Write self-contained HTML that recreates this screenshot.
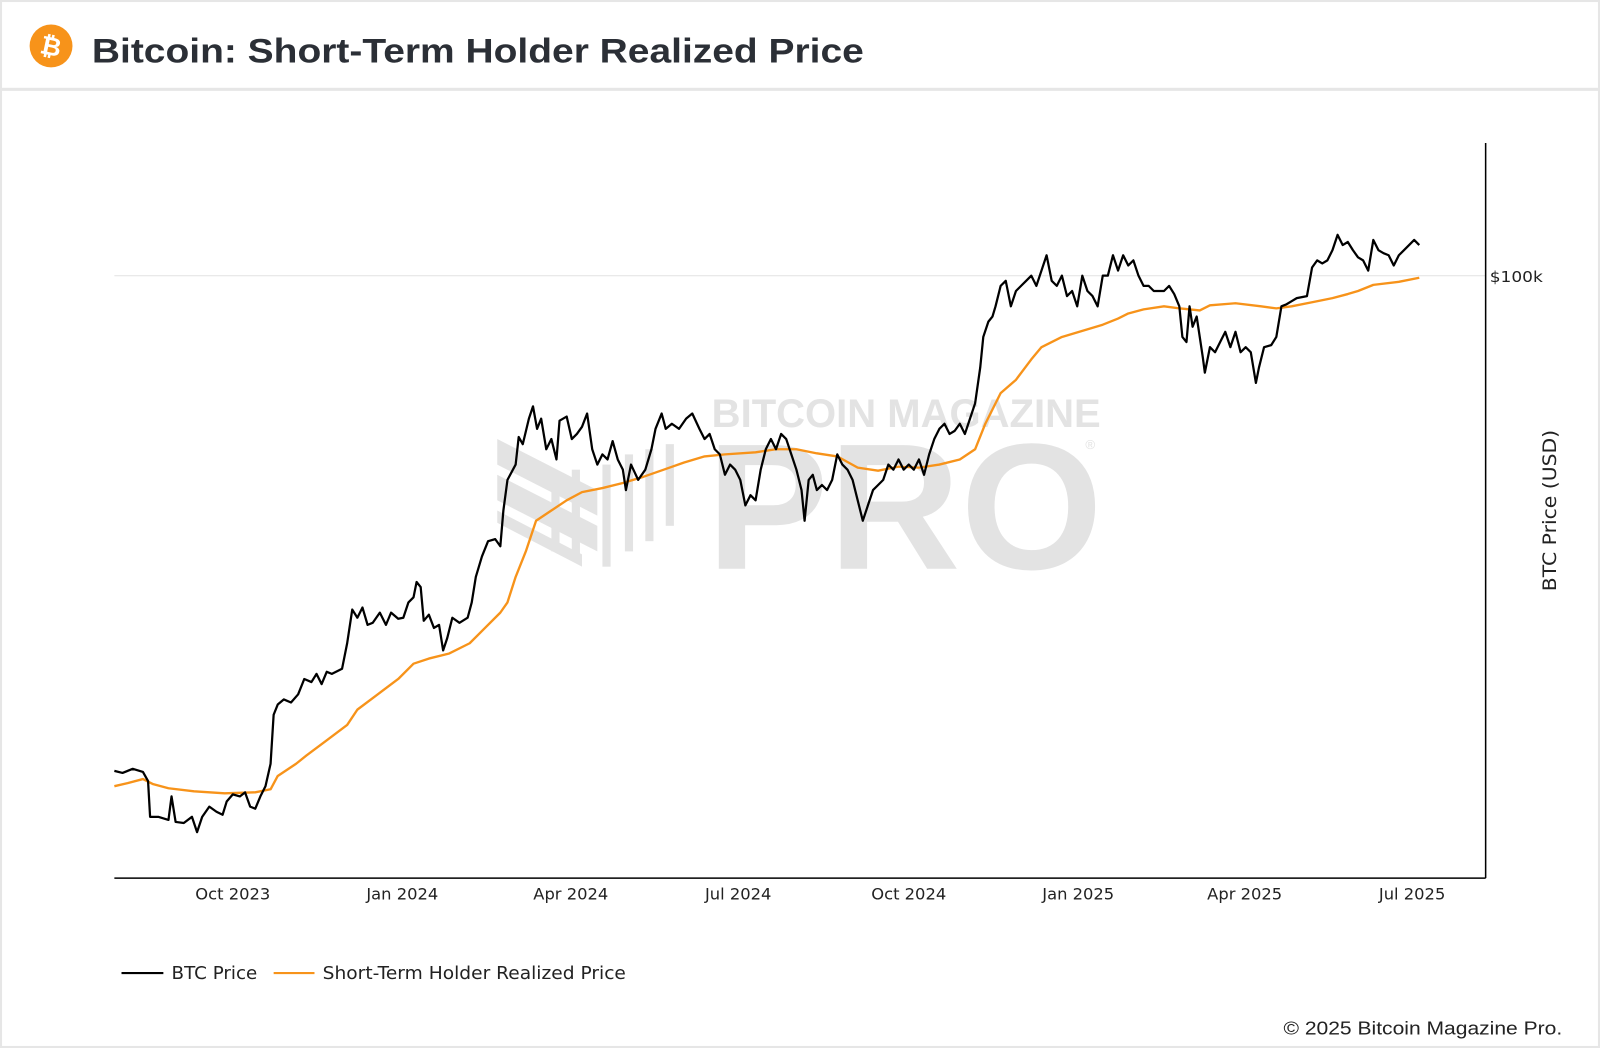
<!DOCTYPE html>
<html><head><meta charset="utf-8"><style>
html,body{margin:0;padding:0;background:#fff;}
svg{display:block;}
</style></head><body>
<svg width="1600" height="1048" viewBox="0 0 1567 1026.4" xmlns="http://www.w3.org/2000/svg" preserveAspectRatio="none" font-family="'Liberation Sans', sans-serif">
<rect x="0" y="0" width="1567" height="1026.4" fill="#fff"/>
<rect x="1" y="1" width="1565" height="1024.4" fill="none" stroke="#e6e6e6" stroke-width="2"/>
<rect x="0" y="86" width="1567" height="3" fill="#e6e6e6"/>
<!-- header -->
<circle cx="50" cy="45" r="21" fill="#f7931a"/>
<text x="50" y="54" font-size="25" font-weight="bold" fill="#fff" text-anchor="middle" transform="rotate(12 50 45)">₿</text>
<text x="90" y="61" font-size="34" font-weight="bold" fill="#2b2f36" textLength="756" lengthAdjust="spacingAndGlyphs">Bitcoin: Short-Term Holder Realized Price</text>
<!-- watermark -->
<g fill="#e3e3e3">
<text x="697" y="418" font-size="39" font-weight="bold" textLength="381" lengthAdjust="spacingAndGlyphs">BITCOIN MAGAZINE</text>
<text x="692" y="557" font-size="176" font-weight="bold" textLength="388" lengthAdjust="spacingAndGlyphs">PRO</text>
<text x="1063" y="440" font-size="13">®</text>
<polygon points="487,430 585,480 585,505 487,455"/>
<polygon points="487,465 585,515 585,540 487,490"/>
<polygon points="487,500 570,543 570,555 487,512"/>
<rect x="540" y="470" width="8" height="70"/>
<rect x="560" y="460" width="8" height="85"/>
<rect x="590" y="455" width="8" height="100"/>
<rect x="612" y="445" width="8" height="95"/>
<rect x="632" y="440" width="8" height="90"/>
<rect x="652" y="435" width="8" height="80"/>
</g>
<!-- grid & axes -->
<line x1="112" y1="270" x2="1455" y2="270" stroke="#e6e6e6" stroke-width="1"/>
<line x1="112" y1="860" x2="1455" y2="860" stroke="#000" stroke-width="1.5"/>
<line x1="1455" y1="140" x2="1455" y2="860" stroke="#000" stroke-width="1.5"/>
<text x="1459" y="276" font-size="15" fill="#222" font-family="'DejaVu Sans', sans-serif" textLength="52" lengthAdjust="spacingAndGlyphs">$100k</text>
<text x="1524" y="500" font-size="18" fill="#222" text-anchor="middle" transform="rotate(-90 1524 500)" font-family="'DejaVu Sans', sans-serif" textLength="158" lengthAdjust="spacingAndGlyphs">BTC Price (USD)</text>
<g font-size="16" fill="#222" text-anchor="middle" font-family="'DejaVu Sans', sans-serif">
<text x="228" y="881">Oct 2023</text>
<text x="394" y="881">Jan 2024</text>
<text x="559" y="881">Apr 2024</text>
<text x="723" y="881">Jul 2024</text>
<text x="890" y="881">Oct 2024</text>
<text x="1056" y="881">Jan 2025</text>
<text x="1219" y="881">Apr 2025</text>
<text x="1383" y="881">Jul 2025</text>
</g>
<!-- STH -->
<polyline fill="none" stroke="#f7931a" stroke-width="2.3" stroke-linejoin="round" points="112,770 125,767 140,763 150,768 165,772 190,775 220,777 250,776 265,773 272,760 290,748 300,740 320,725 340,710 350,695 370,680 390,665 405,650 420,645 440,640 460,630 475,615 490,600 497,590 505,565 515,540 525,510 540,500 555,490 570,482 590,478 610,473 630,467 650,460 670,453 690,447 710,445 740,443 760,440 780,440 800,444 820,447 840,458 860,461 880,457 900,458 920,455 940,450 955,440 965,415 980,385 995,372 1010,352 1020,340 1040,330 1060,324 1080,318 1095,312 1105,307 1120,303 1140,300 1155,302 1175,304 1185,299 1210,297 1235,300 1250,302 1265,300 1285,296 1305,292 1320,288 1330,285 1345,279 1370,276 1390,272"/>
<!-- BTC -->
<polyline fill="none" stroke="#000" stroke-width="2.2" stroke-linejoin="round" points="112,755 120,757 130,753 140,756 145,765 147,800 155,800 165,803 168,780 172,805 180,806 188,800 193,815 198,800 205,790 212,795 218,798 222,785 228,778 235,780 240,776 245,790 250,792 255,780 260,770 265,748 268,700 272,690 278,685 285,688 292,680 298,665 305,668 310,660 315,670 320,658 325,660 335,655 340,630 345,597 350,605 355,595 360,612 365,610 372,600 378,612 383,600 390,606 395,605 400,590 405,585 408,570 412,575 415,608 420,602 425,615 430,612 434,637 438,625 443,605 450,610 458,605 462,590 466,565 472,545 478,530 485,528 490,535 493,500 497,470 505,455 508,428 512,435 518,410 522,398 526,420 530,410 535,440 540,430 545,450 548,412 555,408 560,430 565,425 570,418 575,405 580,440 585,455 590,445 595,450 600,432 605,450 610,460 613,480 618,455 625,470 632,460 638,440 642,420 648,405 652,420 658,415 665,420 672,410 678,405 685,420 690,430 695,425 700,440 705,445 710,465 715,455 720,460 725,470 730,495 735,485 740,490 745,460 750,440 755,430 760,440 765,425 770,430 775,445 780,460 785,480 788,510 792,470 796,465 800,480 805,475 810,480 815,470 820,445 825,455 830,460 835,470 840,490 845,510 850,495 855,480 860,475 865,470 870,455 875,460 880,450 885,460 890,455 895,460 900,450 905,465 910,445 915,430 920,420 925,415 930,425 935,422 940,415 945,425 950,410 955,395 960,360 963,330 968,315 972,310 975,300 980,280 985,275 990,300 995,285 1000,280 1005,275 1010,270 1015,280 1020,265 1025,250 1030,275 1035,280 1040,270 1045,290 1050,285 1055,300 1060,270 1065,285 1070,290 1075,300 1080,270 1085,270 1090,250 1095,265 1100,250 1105,260 1110,255 1115,270 1120,280 1125,280 1130,285 1140,285 1145,280 1150,288 1155,300 1158,330 1162,335 1165,300 1168,320 1172,310 1175,330 1178,350 1180,365 1185,340 1190,345 1195,335 1200,325 1205,340 1210,325 1215,345 1220,340 1225,345 1230,375 1233,360 1238,340 1245,338 1250,330 1255,300 1260,298 1265,295 1270,292 1280,290 1285,262 1290,255 1295,258 1300,255 1305,245 1310,230 1315,240 1320,237 1325,245 1330,252 1335,255 1340,265 1345,235 1350,245 1355,248 1360,250 1365,260 1370,250 1375,245 1380,240 1385,235 1390,240"/>
<!-- legend -->
<g font-family="'DejaVu Sans', sans-serif" font-size="17" fill="#222">
<line x1="119" y1="953" x2="160" y2="953" stroke="#000" stroke-width="2"/>
<text x="168" y="959" textLength="84" lengthAdjust="spacingAndGlyphs">BTC Price</text>
<line x1="268" y1="953" x2="308" y2="953" stroke="#f7931a" stroke-width="2"/>
<text x="316" y="959" textLength="297" lengthAdjust="spacingAndGlyphs">Short-Term Holder Realized Price</text>
</g>
<text x="1257" y="1013" font-size="18" fill="#222" textLength="273" lengthAdjust="spacingAndGlyphs">© 2025 Bitcoin Magazine Pro.</text>
</svg>
</body></html>
